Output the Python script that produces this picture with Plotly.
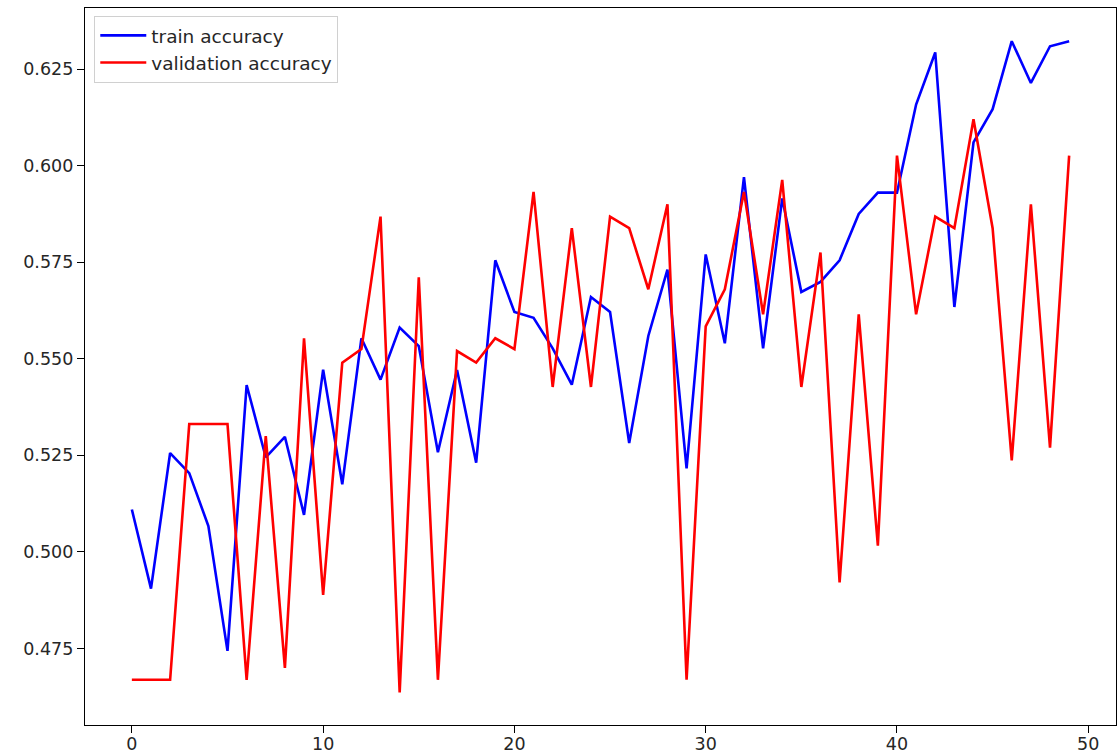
import plotly.graph_objects as go

epochs = list(range(50))
train_accuracy = [
    0.5110, 0.4905, 0.5256, 0.5204, 0.5067, 0.4744, 0.5432, 0.5245, 0.5298, 0.5096,
    0.5472, 0.5175, 0.5553, 0.5446, 0.5581, 0.5533, 0.5258, 0.5471, 0.5231, 0.5755,
    0.5621, 0.5606, 0.5527, 0.5433, 0.5660, 0.5621, 0.5282, 0.5559, 0.5731, 0.5216,
    0.5770, 0.5540, 0.5970, 0.5527, 0.5915, 0.5673, 0.5699, 0.5755, 0.5875, 0.5930,
    0.5930, 0.6158, 0.6293, 0.5634, 0.6060, 0.6146, 0.6322, 0.6214, 0.6309, 0.6322,
]
validation_accuracy = [
    0.4669, 0.4669, 0.4669, 0.5331, 0.5331, 0.5331, 0.4669, 0.5300, 0.4700, 0.5553,
    0.4889, 0.5490, 0.5525, 0.5868, 0.4636, 0.5711, 0.4669, 0.5520, 0.5490, 0.5553,
    0.5525, 0.5932, 0.5427, 0.5838, 0.5427, 0.5868, 0.5838, 0.5680, 0.5900, 0.4669,
    0.5584, 0.5680, 0.5932, 0.5615, 0.5963, 0.5427, 0.5775, 0.4921, 0.5615, 0.5016,
    0.6026, 0.5615, 0.5868, 0.5838, 0.6120, 0.5838, 0.5237, 0.5900, 0.5270, 0.6026,
]
x_ticks = [0, 10, 20, 30, 40, 50]
y_ticks = [0.475, 0.500, 0.525, 0.550, 0.575, 0.600, 0.625]
y_tick_labels = ["0.475", "0.500", "0.525", "0.550", "0.575", "0.600", "0.625"]

fig = go.Figure()
fig.add_trace(go.Scatter(x=epochs, y=train_accuracy, mode="lines",
                         name="train accuracy", line=dict(color="blue", width=2.6)))
fig.add_trace(go.Scatter(x=epochs, y=validation_accuracy, mode="lines",
                         name="validation accuracy", line=dict(color="red", width=2.6)))

tick_font = dict(family="DejaVu Sans", size=17.5, color="#262626")
legend_font = dict(family="DejaVu Sans", size=18.5, color="#262626")
axis_common = dict(showgrid=False, zeroline=False, showline=True, mirror=True,
                   linecolor="black", linewidth=1.3, ticks="outside", ticklen=7,
                   tickcolor="black", tickwidth=1.3, automargin=False,
                   tickfont=tick_font)

fig.update_layout(
    template="none",
    width=1117, height=752,
    margin=dict(l=85, r=1, t=8, b=27, pad=0, autoexpand=False),
    paper_bgcolor="white", plot_bgcolor="white",
    xaxis=dict(range=[-2.45, 51.45], tickvals=x_ticks, ticklabelstandoff=-4,
               **axis_common),
    yaxis=dict(range=[0.4552, 0.6408], tickvals=y_ticks, ticktext=y_tick_labels, **axis_common),
    legend=dict(x=0.009, y=0.989, xanchor="left", yanchor="top",
                bgcolor="rgba(255,255,255,0.8)", bordercolor="#d0d0d0", borderwidth=1,
                font=legend_font, tracegroupgap=0, itemwidth=46),
    showlegend=True,
)

fig.write_html("out.html", config={"displayModeBar": False},
               post_script="document.body.style.margin='0';")
